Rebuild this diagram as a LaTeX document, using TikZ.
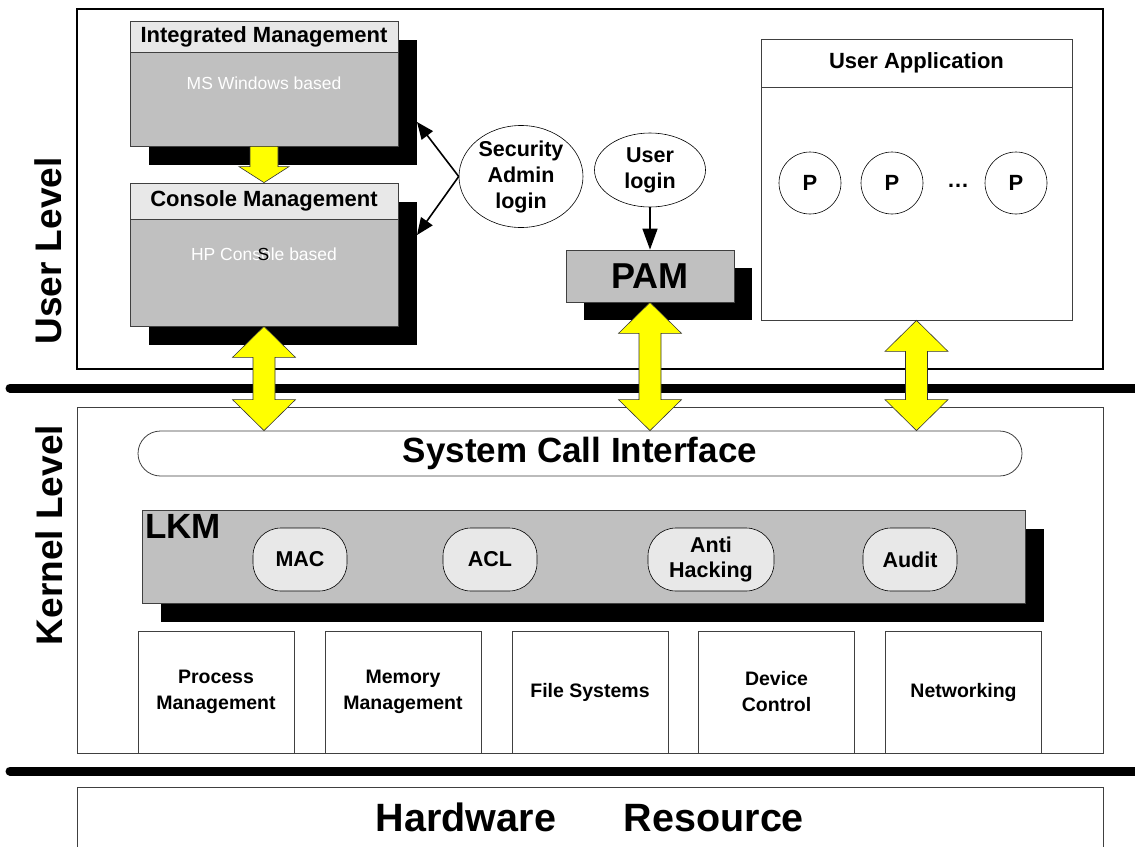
\documentclass[tikz,border=0pt]{standalone}
\usepackage{fontspec}
\setmainfont{Liberation Sans}
\usetikzlibrary{shapes.geometric,arrows.meta,calc,shadows}
\definecolor{boxgray}{HTML}{C0C0C0}
\definecolor{headgray}{HTML}{E8E8E8}
\definecolor{edgegray}{HTML}{404040}
\definecolor{ayellow}{HTML}{FFFF00}
\tikzset{
  fs/.style={font=\fontsize{#1}{#1}\selectfont\bfseries},
  shad/.style={drop shadow={shadow xshift=19pt, shadow yshift=-19pt, fill=black, opacity=1}},
  graybox/.style={draw=edgegray, fill=boxgray, line width=0.8pt, inner sep=0pt},
  headbox/.style={draw=edgegray, fill=headgray, line width=0.8pt, inner sep=0pt, fs=22},
  whitebox/.style={draw=edgegray, fill=white, line width=0.8pt, inner sep=0pt},
  oval/.style={ellipse, draw=black, fill=white, line width=0.6pt, inner sep=0pt, align=center, font=\fontsize{21.5}{26}\selectfont\bfseries},
  pcirc/.style={circle, draw=black, fill=white, line width=0.6pt, minimum size=62pt, inner sep=0pt, fs=22},
  module/.style={draw=black, fill=headgray, line width=0.6pt, rounded corners=28pt, minimum height=63pt, inner sep=0pt, align=center, font=\fontsize{21.5}{25}\selectfont\bfseries},
  subsys/.style={whitebox, minimum width=156pt, minimum height=122pt, align=center, font=\fontsize{19.5}{26}\selectfont\bfseries},
  yarrow/.style={draw=black!80, fill=ayellow, line width=0.6pt, line join=miter},
  blarrow/.style={-{Triangle[length=17pt,width=14pt]}, line width=1.6pt},
  thickline/.style={line width=9pt, line cap=round},
}
\newcommand{\dblarrow}[2]{%
  \draw[yarrow] let \p1=(#1), \p2=(#2) in
    (\x1,\y1) -- (\x1+31.5pt,\y1-31pt) -- (\x1+11pt,\y1-31pt) -- (\x1+11pt,\y2+31pt)
    -- (\x1+31.5pt,\y2+31pt) -- (\x1,\y2) -- (\x1-31.5pt,\y2+31pt) -- (\x1-11pt,\y2+31pt)
    -- (\x1-11pt,\y1-31pt) -- (\x1-31.5pt,\y1-31pt) -- cycle;}
\newcommand{\downarrowblk}[2]{%
  \draw[yarrow] let \p1=(#1), \p2=(#2) in
    (\x1-14pt,\y1) -- (\x1+14pt,\y1) -- (\x1+14pt,\y2+16pt) -- (\x1+25pt,\y2+16pt)
    -- (\x1,\y2) -- (\x1-25pt,\y2+16pt) -- (\x1-14pt,\y2+16pt) -- cycle;}
\begin{document}
\begin{tikzpicture}[x=1pt,y=-1pt]
\useasboundingbox (0,0) rectangle (1135,846);
\fill[white] (0,0) rectangle (1135,846);

% level frames
\node[draw=black, line width=1.6pt, minimum width=1026pt, minimum height=360pt, inner sep=0pt] (user) at (590,189) {};
\node[draw=edgegray, line width=0.8pt, minimum width=1026pt, minimum height=346pt, inner sep=0pt] (kern) at (590,580) {};
\draw[edgegray, line width=0.8pt] (77,850) -- (77,787) coordinate (hwnw) -- (1103,787) coordinate (hwne) -- (1103,850);
\node[fs=39.5] (hw) at (590,817) {Hardware\hspace{68pt}Resource};

\coordinate (l1a) at (10,388); \coordinate (l1b) at (1145,388);
\coordinate (l2a) at (10,771); \coordinate (l2b) at (1145,771);
\draw[thickline] (l1a) -- (l1b);
\draw[thickline] (l2a) -- (l2b);

\node[fs=37, rotate=90] (ulab) at (48,251) {User Level};
\node[fs=37, rotate=90] (klab) at (49,535) {Kernel Level};

% Integrated management
\node[graybox, shad, minimum width=268pt, minimum height=125pt] (im) at (264,83.5) {};
\node[headbox, anchor=north, minimum width=268pt, minimum height=31pt] (imh) at (im.north) {Integrated Management};
\node[text=white, font=\fontsize{17.5}{19}\selectfont] (imt) at (264,83) {MS Windows based};

% Console management
\node[graybox, shad, minimum width=268pt, minimum height=143pt] (cm) at (264,254.5) {};
\node[headbox, anchor=north, minimum width=268pt, minimum height=36pt] (cmh) at (cm.north) {Console Management};
\node[text=white, font=\fontsize{17.5}{19}\selectfont] (cmt) at (264,254) {HP Console based};
\node[text=black, font=\fontsize{17.5}{19}\selectfont] (cms) at (263.5,254) {S};

\downarrowblk{im.south}{cmh.north}

% Security admin login
\node[oval, minimum width=124pt, minimum height=93pt] (sec) at (521,176.5) {Security\\Admin\\login};
\coordinate (t1) at (417,122);
\coordinate (t2) at (417,235);
\draw[blarrow] (sec.west) -- (t1);
\draw[blarrow] (sec.west) -- (t2);

% User login and PAM
\node[oval, minimum width=111pt, minimum height=74pt] (ul) at (650,170) {User\\login};
\node[draw=edgegray, fill=boxgray, line width=0.8pt, inner sep=0pt, minimum width=168pt, minimum height=52pt, drop shadow={shadow xshift=18pt, shadow yshift=-18pt, fill=black, opacity=1}, fs=36] (pam) at (650,276) {PAM};
\draw[-{Triangle[length=21pt,width=15pt]}, line width=1.6pt] (ul.south) -- (pam.north);

% User application
\node[whitebox, minimum width=311pt, minimum height=281pt] (ua) at (916.5,179.5) {};
\node[whitebox, anchor=north, minimum width=311pt, minimum height=48pt, fs=22] (uah) at (ua.north) {User Application};
\node[pcirc] (p1) at (810,183) {P};
\node[pcirc] (p2) at (892,183) {P};
\node[fs=22] (pd) at (958,186) {…};
\node[pcirc] (p3) at (1016,183) {P};

% System call interface
\node[draw=edgegray, fill=white, line width=0.8pt, rounded corners=22.5pt, minimum width=884pt, minimum height=45pt, inner sep=0pt, fs=35] (sci) at (580,453.5) {System Call Interface};

% connections user <-> kernel
\dblarrow{cm.south}{cm.south |- sci.north}
\dblarrow{pam.south}{pam.south |- sci.north}
\dblarrow{ua.south}{ua.south |- sci.north}

% LKM
\node[graybox, shad, minimum width=883pt, minimum height=93pt] (lkm) at (583.5,556.5) {};
\node[anchor=north west, inner sep=0pt, fs=35] (lkmt) at (145,514) {LKM};
\node[module, minimum width=94pt] (mac) at (300,559.5) {MAC};
\node[module, minimum width=94pt] (acl) at (490,559.5) {ACL};
\node[module, minimum width=126pt] (ah) at (711,559.5) {Anti\\Hacking};
\node[module, minimum width=94pt] (aud) at (910,559.5) {Audit};

% subsystems
\node[subsys] (pm) at (216,692) {Process\\Management};
\node[subsys] (mm) at (403,692) {Memory\\Management};
\node[subsys] (fsys) at (590,692) {File Systems};
\node[subsys] (dc) at (776.5,692) {Device\\Control};
\node[subsys] (net) at (963.5,692) {Networking};
\end{tikzpicture}
\end{document}
